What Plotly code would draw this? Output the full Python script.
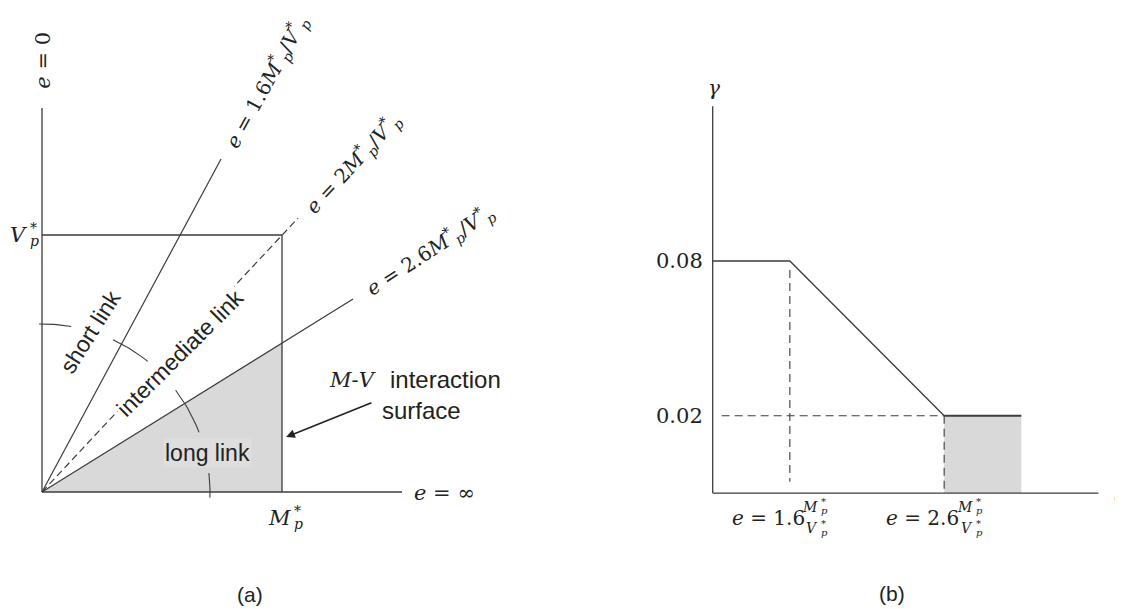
import numpy as np
import plotly.graph_objects as go

# ---------------- data: panel (a)  (normalised M/Mp*, V/Vp*) ----------------
box_M = [0, 1, 1]
box_V = [1, 1, 0]
axis_top_V = 1.494
axis_end_M = 1.5
ray_labels = ["1.6", "2", "2.6"]
ray_end_M = [0.746, 1.067, 1.296]
ray_end_V = [1.296, 1.066, 0.751]
ray_dash = ["solid", "dash", "solid"]
shade_M = [0, 1, 1, 0]
shade_V = [0, 0.58, 0, 0]
# dimension-arc marks (degrees, start/end) at a common radius
arc_deg = [(91, 80), (65, 51), (37.3, 20.8), (6.5, -2.0)]
arc_r_px = 168

# ---------------- data: panel (b)  (e in Mp*/Vp*, gamma) ----------------
gam_e = [1.1, 1.6, 2.6, 3.1]
gam_val = [0.08, 0.08, 0.02, 0.02]
gam_base = -0.01
gam_top = 0.14
e_axis_end = 3.6
gam_ticks = [0.08, 0.02]
gam_tick_text = ["0.08", "0.02"]
e_marks = [1.6, 2.6]
e_mark_text = ["1.6", "2.6"]

LINE = "#3c3c3c"
GRAY = "#d9d9d9"
TXT = "#222222"
SERIF = "DejaVu Serif"
SANS = "Liberation Sans"

# page body has an 8px margin: size and place the figure to compensate
OFF = 8
W, H = 1123 - OFF, 609 - OFF
SA_X, SA_Y = 240.0, 257.0      # px per unit, panel (a)
SB_X, SB_Y = 154.3, 2578.0     # px per unit, panel (b)

fig = go.Figure()

def ln(x, y, xa="x", ya="y", dash="solid", width=1.3, color=LINE):
    fig.add_trace(go.Scatter(x=x, y=y, mode="lines", xaxis=xa, yaxis=ya,
                             line=dict(color=color, width=width, dash=dash),
                             hoverinfo="skip", showlegend=False))

# ---- panel (a)
fig.add_trace(go.Scatter(x=shade_M, y=shade_V, fill="toself", fillcolor=GRAY,
                         mode="none", hoverinfo="skip", showlegend=False))
ln([0, 0], [0, axis_top_V])
ln([0, axis_end_M], [0, 0])
ln([0] + box_M, [1] + box_V)
for m, v, d in zip(ray_end_M, ray_end_V, ray_dash):
    ln([0, m], [0, v], dash="7px,4px" if d == "dash" else "solid", width=1.2)
for a0, a1 in arc_deg:
    t = np.radians(np.linspace(a0, a1, 12))
    ln(arc_r_px * np.cos(t) / SA_X, arc_r_px * np.sin(t) / SA_Y, width=1.1)

# ---- panel (b)
fig.add_trace(go.Scatter(x=[gam_e[2], gam_e[3], gam_e[3], gam_e[2]],
                         y=[gam_base, gam_base, gam_val[3], gam_val[2]],
                         fill="toself", fillcolor=GRAY, mode="none",
                         xaxis="x2", yaxis="y2", hoverinfo="skip", showlegend=False))
ln([gam_e[0], gam_e[0]], [gam_base, gam_top], "x2", "y2")
ln([gam_e[0], e_axis_end], [gam_base, gam_base], "x2", "y2")
ln(gam_e[:3], gam_val[:3], "x2", "y2")
ln(gam_e[2:], gam_val[2:], "x2", "y2", width=2)
ln([e_marks[0], e_marks[0]], [0.0765, -0.0056], "x2", "y2", dash="8px,5px", width=1.1)
ln([1.158, e_marks[1]], [0.02, 0.02], "x2", "y2", dash="8px,5px", width=1.1)
ln([e_marks[1], e_marks[1]], [0.02, gam_base], "x2", "y2", dash="8px,5px", width=1.1)

ann = []
def A(x, y, text, size=20, family=SERIF, xref="x", yref="y", angle=0,
      xanchor="center", yanchor="middle", bg=None, color=TXT, xshift=0, yshift=0):
    d = dict(x=x, y=y, text=text, xref=xref, yref=yref, showarrow=False,
             textangle=angle, xanchor=xanchor, yanchor=yanchor,
             xshift=xshift, yshift=yshift,
             font=dict(family=family, size=size, color=color))
    if bg:
        d["bgcolor"] = bg
    ann.append(d)

def sym(x, y, letter, size, small, xref="x", yref="y"):
    """letter with a stacked * (above) and p (below) joined at (x, y)."""
    A(x, y, "<i>%s</i>" % letter, size=size, xref=xref, yref=yref, xanchor="right")
    A(x, y, "*", size=small, xref=xref, yref=yref, xanchor="left",
      xshift=-1, yshift=round(size * 0.33))
    A(x, y, "<i>p</i>", size=small, xref=xref, yref=yref, xanchor="left",
      xshift=-1, yshift=-round(size * 0.3))

MP = "<i>M</i><sup>*</sup><sub><i>p</i></sub>"
VP = "<i>V</i><sup>*</sup><sub><i>p</i></sub>"

# panel (a) text
A(0.006, 1.68, "<i>e</i> = 0", size=21, angle=-90)
sym(-0.054, 1.0, "V", 21, 14)
sym(1.046, -0.101, "M", 21, 14)
A(1.54, -0.004, "<i>e</i> = ∞", size=21, xanchor="left")
ray_pos = [(0.935, 1.595, -61), (1.296, 1.28, -47), (1.617, 0.938, -33)]
for (x, y, ang), lab in zip(ray_pos, ray_labels):
    A(x, y, "<i>e</i> = " + lab + MP + "/" + VP, size=20, angle=ang)
A(0.2, 0.623, "short link", size=23, family=SANS, angle=-58)
A(0.575, 0.541, "intermediate link", size=23, family=SANS, angle=-45, bg="white")
A(0.6875, 0.152, "long link", size=23, family=SANS, bg="#dedede")
A(1.40, 0.436, "<i>M</i>-<i>V</i>", size=21, xanchor="right")
A(1.442, 0.436, "interaction", size=24, family=SANS, xanchor="left")
A(1.583, 0.319, "surface", size=24, family=SANS)
ann.append(dict(x=1.017, y=0.214, ax=1.379, ay=0.350, xref="x", yref="y",
                axref="x", ayref="y", text="", showarrow=True, arrowhead=2,
                arrowsize=1.1, arrowwidth=1.6, arrowcolor=TXT))
A(0.865, -0.397, "(a)", size=21, family=SANS)

# panel (b) text
A(1.11, 0.147, "<i>γ</i>", xref="x2", yref="y2")
A(3.69, gam_base - 0.001, "<i>e</i>", size=21, xref="x2", yref="y2", xanchor="left")
for v, t in zip(gam_ticks, gam_tick_text):
    A(1.05, v, t, size=21, xref="x2", yref="y2", xanchor="right")
for em, t in zip(e_marks, e_mark_text):
    A(em + 0.11, -0.0197, "<i>e</i> = " + t, size=20, xref="x2", yref="y2", xanchor="right")
    sym(em + 0.197, -0.0154, "M", 14, 10, "x2", "y2")
    sym(em + 0.197, -0.0236, "V", 14, 10, "x2", "y2")
A(2.262, -0.0488, "(b)", size=21, family=SANS, xref="x2", yref="y2")

# axis ranges: panel (a) origin at (42, 492) page px; panel (b) e=1.1 at 712.7, gamma 0.02 at 415.7
ax0 = -(42 - OFF) / SA_X
ay1 = (492 - OFF) / SA_Y
bx0 = 1.1 - (712.7 - OFF - W / 2) / SB_X
by1 = 0.02 + (415.7 - OFF) / SB_Y

ax_off = dict(visible=False, fixedrange=True)
fig.update_layout(
    width=W, height=H, margin=dict(l=0, r=0, t=0, b=0),
    paper_bgcolor="white", plot_bgcolor="rgba(0,0,0,0)",
    xaxis=dict(domain=[0, 0.5], range=[ax0, ax0 + (W / 2) / SA_X], **ax_off),
    yaxis=dict(domain=[0, 1], range=[ay1 - H / SA_Y, ay1], **ax_off),
    xaxis2=dict(domain=[0.5, 1], range=[bx0, bx0 + (W / 2) / SB_X], **ax_off),
    yaxis2=dict(domain=[0, 1], range=[by1 - H / SB_Y, by1], **ax_off),
    annotations=ann, showlegend=False,
)
fig.write_html("out.html")
